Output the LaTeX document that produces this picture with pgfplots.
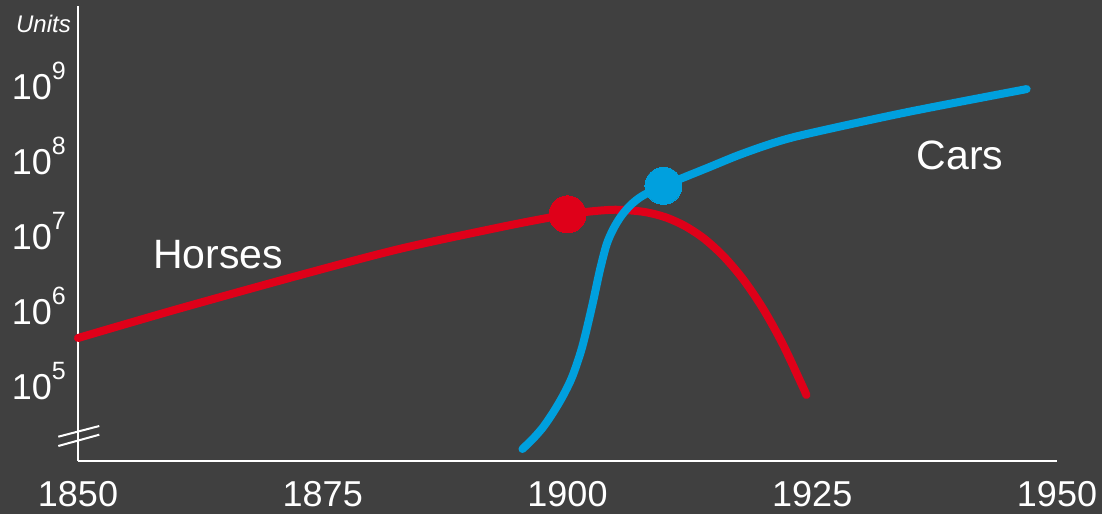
\documentclass[border=0pt]{standalone}
\usepackage{pgfplots}
\pgfplotsset{compat=1.18}
\usepackage{fontspec}
\setmainfont{Liberation Sans}
\definecolor{bg}{RGB}{64,64,64}
\definecolor{hred}{RGB}{223,0,25}
\definecolor{cblue}{RGB}{0,160,222}
\newcommand{\tl}[1]{10\raisebox{20pt}{\fontsize{25}{25}\selectfont #1}}
\begin{document}
\begin{tikzpicture}
\fill[bg] (-78pt,-53pt) rectangle (1024pt,461pt);
\begin{axis}[
  scale only axis, width=979pt, height=455pt,
  xmin=1850, xmax=1950, ymode=log, ymin=1e4, ymax=1.17e10,
  axis x line=bottom, axis y line=left,
  axis line style={white, line width=2pt, -},
  xtick={1850,1875,1900,1925,1950},
  xticklabels={1850,1875,1900,1925,1950},
  ytick={1e5,1e6,1e7,1e8,1e9},
  yticklabels={\tl{5},\tl{6},\tl{7},\tl{8},\tl{9}},
  major tick length=0pt, minor tick length=0pt,
  xticklabel style={font=\fontsize{36}{36}\selectfont, text=white, anchor=base, inner sep=0pt, yshift=-46pt},
  yticklabel style={font=\fontsize{36}{36}\selectfont, text=white, anchor=base east, inner sep=0pt, xshift=-12pt, yshift=-13pt},
  clip=false,
]
\addplot[hred, line width=8pt, smooth, line cap=round, line join=round, no markers] coordinates {
  (1850,436516) (1860,1047129) (1872.7,3019952) (1882.9,6760830) (1893.2,13182567)
  (1898.3,17782794) (1900,19498446) (1902.5,21379621) (1904.5,22387211) (1906,22180000)
  (1908,20800000) (1910,17820000) (1912,13610000) (1914,9141000) (1916,5272000)
  (1918,2588000) (1920,1062000) (1922,359700) (1924,99770) (1924.4,75858)
};
\addplot[cblue, line width=8pt, smooth, line cap=round, line join=round, no markers] coordinates {
  (1895.4,14454) (1896.5,19953) (1897.5,28184) (1898.5,43652) (1899.5,72444)
  (1900.5,134896) (1901.5,331131) (1902.5,1148154) (1903.3,3467369) (1904.0,7762471)
  (1904.7,12589254) (1905.5,18620871) (1906.5,26302680) (1907.7,34673685)
  (1909.8,46773514) (1914.5,83176377) (1917.5,120226443) (1921,173780083)
  (1924.4,229086765) (1934.6,446683592) (1946.9,912010839)
};
\addplot[only marks, mark=*, mark size=18.5pt, hred, mark options={line width=0pt}] coordinates {(1900,19498446)};
\addplot[only marks, mark=*, mark size=18.5pt, cblue, mark options={line width=0pt}] coordinates {(1909.8,46773514)};
\end{axis}
\draw[white, line width=2pt] (-19.7pt,24.3pt) -- (21.3pt,35pt);
\draw[white, line width=2pt] (-19.7pt,15pt) -- (21.3pt,26.3pt);
\node[anchor=base east, inner sep=0pt, text=white, font=\fontsize{24}{24}\selectfont\itshape] at (-7pt,428pt) {Units};
\node[anchor=base west, inner sep=0pt, text=white, font=\fontsize{41}{41}\selectfont] at (75pt,192pt) {Horses};
\node[anchor=base west, inner sep=0pt, text=white, font=\fontsize{41}{41}\selectfont] at (838.7pt,291pt) {Cars};
\pgfresetboundingbox
\useasboundingbox (-78pt,-53pt) rectangle (1024pt,461pt);
\end{tikzpicture}
\end{document}
